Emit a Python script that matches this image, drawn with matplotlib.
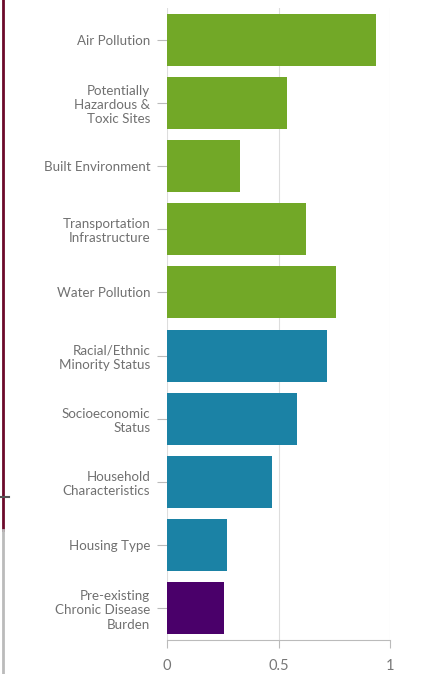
import matplotlib
matplotlib.use("Agg")
import matplotlib.pyplot as plt
from matplotlib.lines import Line2D

categories = [
    "Air Pollution",
    "Potentially\nHazardous &\nToxic Sites",
    "Built Environment",
    "Transportation\nInfrastructure",
    "Water Pollution",
    "Racial/Ethnic\nMinority Status",
    "Socioeconomic\nStatus",
    "Household\nCharacteristics",
    "Housing Type",
    "Pre-existing\nChronic Disease\nBurden",
]
values = [0.937, 0.538, 0.327, 0.623, 0.758, 0.717, 0.583, 0.471, 0.269, 0.257]
groups = ["env"] * 5 + ["soc"] * 4 + ["health"]
group_colors = {"env": "#72a827", "soc": "#1b82a5", "health": "#4a006a"}
xticks = [0, 0.5, 1]
xticklabels = ["0", "0.5", "1"]

plt.rcParams['font.family'] = ['Lato', 'DejaVu Sans']

fig = plt.figure(figsize=(4.26, 6.74), dpi=100)
ax = fig.add_axes([167/426, 1 - 640/674, (390-167)/426, (640-8)/674])

pos = list(range(len(categories)))
ax.barh(pos, values, height=0.82, color=[group_colors[g] for g in groups], zorder=3)
ax.set_ylim(len(categories) - 0.5, -0.5)
ax.set_xlim(0, 1)
ax.set_yticks(pos)
ax.set_yticklabels(categories, fontsize=9.6, color="#707070", linespacing=1.22)
ax.set_xticks(xticks)
ax.set_xticklabels(xticklabels, fontsize=10.5, color="#777777")
ax.grid(axis="x", color="#dddddd", linewidth=0.8, zorder=0)
for s in ["top", "right", "left"]:
    ax.spines[s].set_visible(False)
ax.spines["bottom"].set_color("#bbbbbb")
ax.tick_params(axis="y", length=7, color="#bbbbbb", pad=5)
ax.tick_params(axis="x", length=6, color="#bbbbbb", pad=8)

# screenshot border remnants
fig.add_artist(Line2D([3/426, 3/426], [1, 1 - 530/674], color="#6b0a2a", linewidth=2, transform=fig.transFigure))
fig.add_artist(Line2D([3/426, 3/426], [1 - 530/674, 0], color="#bbbbbb", linewidth=2, transform=fig.transFigure))
fig.add_artist(Line2D([0, 9/426], [1 - 497/674, 1 - 497/674], color="#555555", linewidth=1.5, transform=fig.transFigure))

fig.savefig("out.png", dpi=100)
